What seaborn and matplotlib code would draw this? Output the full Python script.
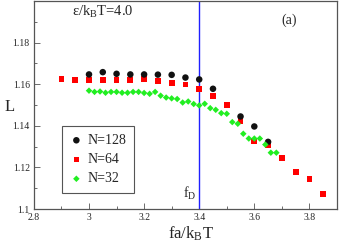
import numpy as np
import pandas as pd
import matplotlib
matplotlib.use("Agg")
import matplotlib.pyplot as plt
import seaborn as sns

# ---- data ----
x_128 = [3.00, 3.05, 3.10, 3.15, 3.20, 3.25, 3.30, 3.35, 3.40, 3.45, 3.55, 3.60, 3.65]
L_128 = [1.1647, 1.1658, 1.1650, 1.1647, 1.1647, 1.1646, 1.1645, 1.1632, 1.1623,
         1.1578, 1.1445, 1.1397, 1.1323]

x_64 = [2.90, 2.95, 3.00, 3.05, 3.10, 3.15, 3.20, 3.25, 3.30, 3.35,
        3.40, 3.45, 3.50, 3.55, 3.60, 3.65, 3.70, 3.75, 3.80, 3.85]
L_64 = [1.1625, 1.1619, 1.1622, 1.1619, 1.1622, 1.1619, 1.1625, 1.1617, 1.1607, 1.1598,
        1.1578, 1.1545, 1.1501, 1.1423, 1.1328, 1.1307, 1.1244, 1.1178, 1.1143, 1.1071]

x_32 = [3.00, 3.02, 3.04, 3.06, 3.08, 3.10, 3.12, 3.14, 3.16, 3.18, 3.20, 3.22,
        3.24, 3.26, 3.28, 3.30, 3.32, 3.34, 3.36, 3.38, 3.40, 3.42, 3.44, 3.46,
        3.48, 3.50, 3.52, 3.54, 3.56, 3.58, 3.60, 3.62, 3.64, 3.66, 3.68]
L_32 = [1.1569, 1.1563, 1.1565, 1.1559, 1.1563, 1.1563, 1.1559, 1.1559, 1.1563, 1.1563,
        1.1558, 1.1554, 1.1563, 1.1545, 1.1536, 1.1532, 1.1529, 1.1512, 1.1517, 1.1505,
        1.1498, 1.1506, 1.1485, 1.1477, 1.1461, 1.1458, 1.1418, 1.1410, 1.1362, 1.1339,
        1.1339, 1.1339, 1.1310, 1.1271, 1.1271]

f_D = 3.4
x_ticks = [2.8, 3.0, 3.2, 3.4, 3.6, 3.8]
x_ticklabels = ["2.8", "3", "3.2", "3.4", "3.6", "3.8"]
y_ticks = [1.10, 1.12, 1.14, 1.16, 1.18]
y_ticklabels = ["1.1", "1.12", "1.14", "1.16", "1.18"]

df128 = pd.DataFrame({"x": x_128, "L": L_128})
df64 = pd.DataFrame({"x": x_64, "L": L_64})
df32 = pd.DataFrame({"x": x_32, "L": L_32})

# ---- style ----
sns.set_style("ticks")
plt.rcParams["font.family"] = ["Liberation Serif", "DejaVu Serif"]
plt.rcParams["mathtext.fontset"] = "custom"
plt.rcParams["mathtext.rm"] = "Liberation Serif"
plt.rcParams["mathtext.it"] = "Liberation Serif:italic"

fig, ax = plt.subplots(figsize=(3.39, 2.42), dpi=100)
fig.subplots_adjust(left=0.100, right=0.994, bottom=0.136, top=0.996)

ax.axvline(f_D, color="#2020ff", lw=1.0, zorder=1)

sns.scatterplot(data=df64, x="x", y="L", ax=ax, marker="s", s=17, color="#ff0000",
                edgecolor="none", label="N=64", zorder=3)
sns.scatterplot(data=df128, x="x", y="L", ax=ax, marker="o", s=22, color="#111111",
                edgecolor="none", label="N=128", zorder=4)
sns.scatterplot(data=df32, x="x", y="L", ax=ax, marker="D", s=11, color="#22ee22",
                edgecolor="none", label="N=32", zorder=5)

ax.set_xlim(2.8, 3.9)
ax.set_ylim(1.10, 1.20)
ax.set_xticks(x_ticks)
ax.set_xticklabels(x_ticklabels)
ax.set_yticks(y_ticks)
ax.set_yticklabels(y_ticklabels)
ax.set_xticks(np.arange(2.9, 3.9, 0.2), minor=True)
ax.set_yticks(np.arange(1.11, 1.20, 0.02), minor=True)
ax.tick_params(axis="both", which="major", direction="in", length=4, width=0.6,
               labelsize=7, pad=3, color="#555555")
ax.tick_params(axis="both", which="minor", direction="in", length=2, width=0.6,
               color="#555555")
for sp in ax.spines.values():
    sp.set_color("#555555")
    sp.set_linewidth(0.9)

ax.set_xlabel(r"fa/k$_\mathrm{B}$T", fontsize=12)
ax.xaxis.set_label_coords(0.518, -0.075)
ax.set_ylabel("L", fontsize=12, rotation=0)
ax.yaxis.set_label_coords(-0.079, 0.45)

ax.text(0.125, 0.945, r"ε/k$_\mathrm{B}$T=4.0", transform=ax.transAxes,
        fontsize=10.5, va="center", ha="left")
ax.text(0.815, 0.905, "(a)", transform=ax.transAxes, fontsize=10, va="center", ha="left")
ax.text(3.34, 1.1077, r"f$_\mathrm{D}$", fontsize=10, va="center", ha="left")

handles, labels = ax.get_legend_handles_labels()
order = [labels.index(k) for k in ["N=128", "N=64", "N=32"]]
leg = ax.legend([handles[i] for i in order], [labels[i] for i in order],
                loc="lower left", bbox_to_anchor=(0.092, 0.077), borderaxespad=0,
                fontsize=10, frameon=True, fancybox=False, framealpha=1,
                edgecolor="#555555", handletextpad=0.3, handlelength=1.0,
                borderpad=0.55, labelspacing=0.45, markerscale=1.0)
leg.get_frame().set_linewidth(0.8)

fig.savefig("out.png", dpi=100)
